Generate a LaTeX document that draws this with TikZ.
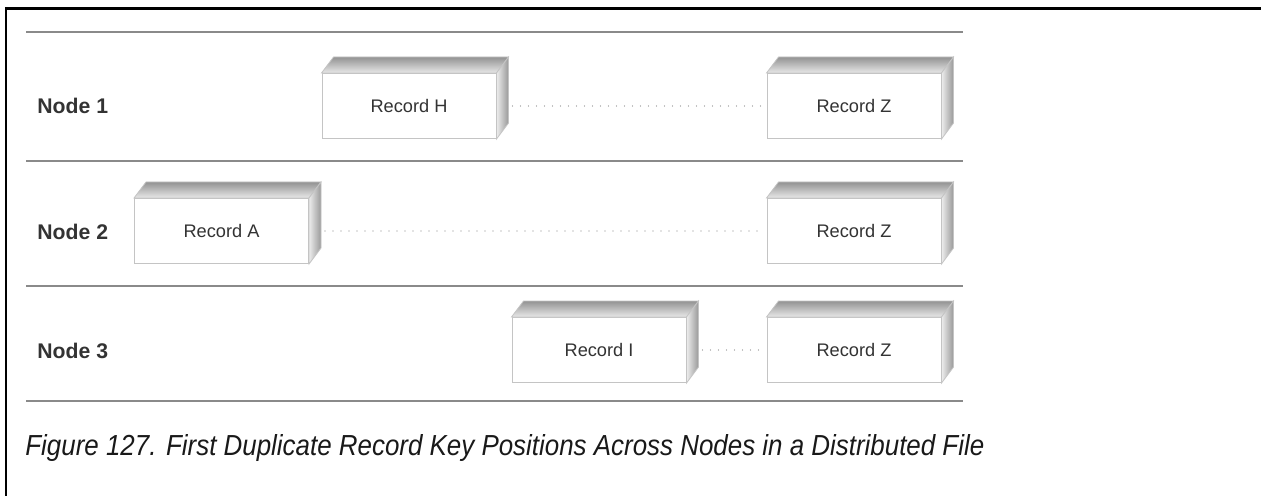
\documentclass[tikz,border=0pt]{standalone}
\usepackage{fontspec}
\setmainfont{Liberation Sans}
\usepackage{graphicx}
\definecolor{sepgray}{HTML}{8A8A8A}
\definecolor{edgegray}{HTML}{C4C4C4}
\definecolor{txtgray}{HTML}{333333}
\definecolor{dotgray}{HTML}{858585}
\newcommand\drawcube[1]{%
  \shade[top color=gray!85, bottom color=gray!18, draw=edgegray, line width=0.4pt]
    (#1.north west) -- ([shift={(12,-16)}]#1.north west) -- ([shift={(12,-16)}]#1.north east) -- (#1.north east) -- cycle;
  \shade[left color=gray!15, right color=gray!80, draw=edgegray, line width=0.4pt]
    (#1.north east) -- ([shift={(12,-16)}]#1.north east) -- ([shift={(12,-16)}]#1.south east) -- (#1.south east) -- cycle;
}
\begin{document}
\begin{tikzpicture}[x=0.5pt,y=-0.5pt,
  sep/.style={draw=sepgray, line width=1.2pt},
  frame/.style={draw=black, line width=1.4pt},
  rowlabel/.style={anchor=west, inner sep=0pt, text=txtgray, font=\fontsize{10.6pt}{12pt}\selectfont\bfseries},
  recbox/.style={draw=edgegray, line width=0.5pt, fill=white, minimum width=87pt, minimum height=32.5pt, inner sep=0pt, text=txtgray, font=\fontsize{9.1pt}{11pt}\selectfont},
  dotline/.style={draw=dotgray, line width=0.7pt, line cap=round, dash pattern=on 0pt off 4pt}
]
\useasboundingbox (0,0) rectangle (1261,496);
% frame
\draw[frame] (6,496) -- (6,8.5) -- (1261,8.5);
% separators
\draw[sep] (26,32) -- (963,32);
\draw[sep] (26,161) -- (963,161);
\draw[sep] (26,286) -- (963,286);
\draw[sep] (26,401) -- (963,401);
% row labels
\node[rowlabel] (n1) at (37,106) {Node 1};
\node[rowlabel] (n2) at (37,232) {Node 2};
\node[rowlabel] (n3) at (37,351) {Node 3};
% row 1
\node[recbox] (h) at (409,106) {Record H};
\node[recbox] (z1) at (854,106) {Record Z};
\drawcube{h}\drawcube{z1}
% row 2
\node[recbox] (a) at (221.5,231) {Record A};
\node[recbox] (z2) at (854,231) {Record Z};
\drawcube{a}\drawcube{z2}
% row 3
\node[recbox] (i) at (599,350) {Record I};
\node[recbox] (z3) at (854,350) {Record Z};
\drawcube{i}\drawcube{z3}
% dotted links
\draw[dotline] ([xshift=8pt]h.east) -- ([xshift=-3pt]z1.west);
\draw[dotline] ([xshift=8pt]a.east) -- ([xshift=-3pt]z2.west);
\draw[dotline] ([xshift=8pt]i.east) -- ([xshift=-3pt]z3.west);
% caption
\node[anchor=base west, inner sep=0pt, text=black!90] (cap) at (25,455)
  {\resizebox{479.5pt}{10.5pt}{\itshape Figure 127. First Duplicate Record Key Positions Across Nodes in a Distributed File}};
\end{tikzpicture}
\end{document}
